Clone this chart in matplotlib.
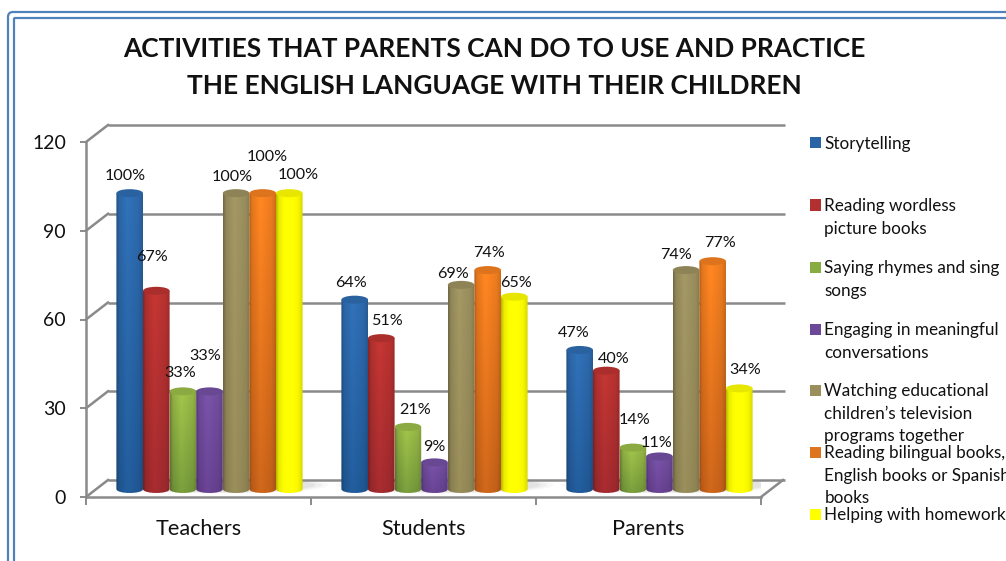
import numpy as np
import matplotlib
matplotlib.use("Agg")
import matplotlib.pyplot as plt
from matplotlib.colors import to_rgb
from matplotlib.patches import Ellipse, FancyBboxPatch, PathPatch, Rectangle
from matplotlib.path import Path

TITLE = "ACTIVITIES THAT PARENTS CAN DO TO USE AND PRACTICE\nTHE ENGLISH LANGUAGE WITH THEIR CHILDREN"
groups = ["Teachers", "Students", "Parents"]
y_ticks = [0, 30, 60, 90, 120]

storytelling = [100, 64, 47]
wordless_books = [67, 51, 40]
rhymes_songs = [33, 21, 14]
conversations = [33, 9, 11]
television = [100, 69, 74]
bilingual_books = [100, 74, 77]
homework = [100, 65, 34]

activities = [
    "Storytelling",
    "Reading wordless\npicture books",
    "Saying rhymes and sing\nsongs",
    "Engaging in meaningful\nconversations",
    "Watching educational\nchildren\u2019s television\nprograms together",
    "Reading bilingual books,\nEnglish books or Spanish\nbooks",
    "Helping with homework",
]

W, H = 1006, 561
plt.rcParams["font.family"] = ["Lato", "DejaVu Sans"]
fig = plt.figure(figsize=(W / 100, H / 100), dpi=100, facecolor="white")


def fx(px):
    return px / W


def fy(py):
    return 1 - py / H


# Double rounded frame running off the right and bottom edges
for inset, rad in ((8, 5), (14, 1)):
    fig.add_artist(FancyBboxPatch(
        (inset, H - 700), 1300, 700 - inset - 4,
        boxstyle=f"round,pad=0,rounding_size={rad}", transform=None,
        fc="none", ec="#4f81bd", lw=1.6))

ax = fig.add_axes([fx(86), fy(497), (761 - 86) / W, (497 - 142) / H])
ax.set_xlim(0, 3)
ax.set_ylim(0, 120)
ax.patch.set_visible(False)

px_x = 3 / (761 - 86)          # data units per horizontal pixel
px_y = 120 / (497 - 142)       # data units per vertical pixel
depth_x, depth_y = 22 * px_x, 17 * px_y
GREY = "#8a8a8a"

# Back wall gridlines, left wall diagonals, floor outline
for v in y_ticks:
    ax.plot([depth_x, 3 + depth_x + 2 * px_x], [v + depth_y] * 2, color=GREY, lw=1.8,
            clip_on=False, zorder=1, solid_capstyle="butt")
    ax.plot([0, depth_x], [v, v + depth_y], color=GREY, lw=1.8, clip_on=False, zorder=1)
ax.plot([3, 3 + depth_x], [0, depth_y], color=GREY, lw=1.8, clip_on=False, zorder=1)

for side in ("top", "right"):
    ax.spines[side].set_visible(False)
for side in ("left", "bottom"):
    ax.spines[side].set_color(GREY)
    ax.spines[side].set_linewidth(1.8)
ax.set_yticks(y_ticks)
ax.set_xticks([0, 1, 2, 3])
ax.set_xticklabels([])
ax.tick_params(axis="y", length=4.5, width=1.4, color=GREY, labelsize=14, pad=10, labelcolor="#111111")
ax.tick_params(axis="x", length=6, width=1.4, color=GREY)
for i, name in enumerate(groups):
    ax.text(i + 0.5, -32 * px_y, name, ha="center", va="center", fontsize=15.6, color="#111111")

series_values = [storytelling, wordless_books, rhymes_songs, conversations,
                 television, bilingual_books, homework]
top_colors = ["#2f6db2", "#bd3431", "#9bbd48", "#7550a3", "#9d9260", "#f68120", "#ffff00"]
base_colors = ["#215a98", "#a12a2e", "#76993b", "#664190", "#948957", "#c8631a", "#ffff00"]

bar_w = 26.6 * px_x
shift_x, shift_y = 11 * px_x, 8 * px_y
cap = 4 * px_y

u = np.linspace(0, 1, 40)
shade = np.interp(u, [0, 0.1, 0.42, 0.85, 1], [0.72, 0.92, 1.05, 0.96, 0.84])
t = np.linspace(0, 1, 40)[:, None, None]


def cylinder_path(x0, x1, top):
    k = 1.33
    verts = [(x0, top), (x1, top), (x1, shift_y),
             (x1, shift_y - k * cap), (x0, shift_y - k * cap), (x0, shift_y), (x0, top)]
    codes = [Path.MOVETO, Path.LINETO, Path.LINETO, Path.CURVE4, Path.CURVE4, Path.CURVE4, Path.CLOSEPOLY]
    return Path(verts, codes)


# Soft shadows on the floor behind each group
for i in range(3):
    xc = i + 0.5 + shift_x
    for grow, alpha in ((1.0, 0.05), (0.93, 0.07), (0.86, 0.10)):
        ax.add_patch(Ellipse((xc + 10 * px_x, shift_y + 4 * px_y), 7 * bar_w * grow + 32 * px_x,
                             17 * px_y * grow, fc="#808080", ec="none", alpha=alpha, zorder=1.5))

# Cylinders: a shaded image clipped to the body, with an elliptical cap on top
for s, vals in enumerate(series_values):
    top_rgb = np.array(to_rgb(top_colors[s]))
    base_rgb = np.array(to_rgb(base_colors[s]))
    colour = top_rgb[None, None, :] * (1 - t) + base_rgb[None, None, :] * t
    img = np.clip(colour * shade[None, :, None], 0, 1)
    for g, v in enumerate(vals):
        xc = g + 0.5 + shift_x + (s - 3) * bar_w
        x0, x1 = xc - bar_w / 2, xc + bar_w / 2
        top = v + shift_y
        z = 3 + s * 0.1
        body = PathPatch(cylinder_path(x0, x1, top), fc="none", ec="none", zorder=z)
        ax.add_patch(body)
        im = ax.imshow(img, extent=(x0, x1, shift_y - cap, top), aspect="auto", zorder=z,
                       interpolation="bilinear")
        im.set_clip_path(body)
        ax.add_patch(Ellipse((xc, top), x1 - x0, 2 * cap,
                             fc=tuple(np.clip(top_rgb * 0.9, 0, 1)), ec="none", zorder=z + 0.01))

ax.set_xlim(0, 3)
ax.set_ylim(0, 120)

# Value labels, nudged in pixels from the top of each cylinder
nudges = [
    [(-4, 19), (-4, 36), (-3, 20), (-4, 37), (-4, 18), (5, 38), (9, 20)],
    [(-4, 19), (6, 19), (7, 19), (0, 17), (-8, 13), (1, 19), (2, 16)],
    [(-6, 19), (7, 14), (2, 30), (-3, 15), (-10, 17), (7, 20), (6, 20)],
]
for g in range(3):
    for s, vals in enumerate(series_values):
        v = vals[g]
        xc = g + 0.5 + shift_x + (s - 3) * bar_w
        dx, dy = nudges[g][s]
        ax.annotate(f"{v}%", (xc, v + shift_y), xytext=(dx * 0.72, (dy - 2) * 0.72),
                    textcoords="offset points", ha="center", va="center",
                    fontsize=11.6, color="#111111", zorder=8, annotation_clip=False)

fig.text(fx(494.5), fy(49), TITLE.split("\n")[0], ha="center", va="center", fontsize=18.9,
         fontweight="bold", color="#111111")
fig.text(fx(494.5), fy(86), TITLE.split("\n")[1], ha="center", va="center", fontsize=18.9,
         fontweight="bold", color="#111111")

# Legend keys and wrapped labels
key_rows = [143, 205, 267, 329, 390, 452, 514]
key_fill = ["#2a64a6", "#b23030", "#88ab42", "#6c4898", "#9a8f5c", "#dd7420", "#ffff00"]
for row, fill, label in zip(key_rows, key_fill, activities):
    fig.add_artist(Rectangle((fx(809.5), fy(row + 5.5)), 11 / W, 11 / H, transform=fig.transFigure,
                             fc=fill, ec="none"))
    for n, line in enumerate(label.split("\n")):
        fig.text(fx(824.5), fy(row + 1 + n * 22.6), line, ha="left", va="center", fontsize=12.3,
                 color="#111111")

fig.savefig("out.png", dpi=100, facecolor="white")
